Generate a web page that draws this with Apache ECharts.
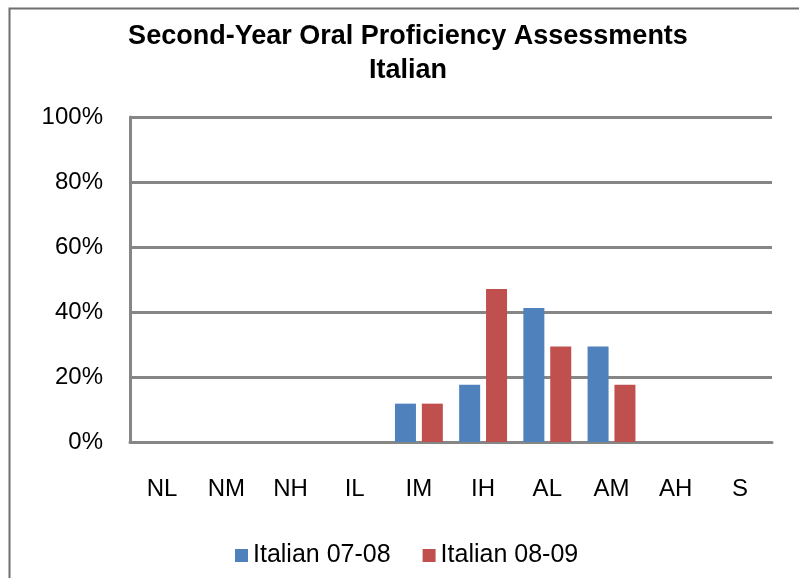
<!DOCTYPE html>
<html>
<head>
<meta charset="utf-8">
<script src="https://cdn.jsdelivr.net/npm/echarts@6/dist/echarts.min.js"></script>
<style>
html,body{margin:0;padding:0;background:#fff;}
#chart{width:799px;height:578px;}
</style>
</head>
<body>
<div id="chart"></div>
<script>
const categories = ['NL','NM','NH','IL','IM','IH','AL','AM','AH','S'];
const seriesNames = ['Italian 07-08','Italian 08-09'];
const italian0708 = [0,0,0,0,11.8,17.6,41.2,29.4,0,0];
const italian0809 = [0,0,0,0,11.8,47.1,29.4,17.6,0,0];
const yTicks = [0,20,40,60,80,100];

const chart = echarts.init(document.getElementById('chart'));
const font = '"Liberation Sans", Arial, Helvetica, sans-serif';
chart.setOption({
  animation: false,
  textStyle: {fontFamily: font},
  graphic: [{
    type: 'rect', left: 7, top: 6, silent: true,
    shape: {width: 791, height: 600},
    style: {fill: 'none', stroke: '#6f6f6f', lineWidth: 2}
  }],
  title: {
    text: 'Second-Year Oral Proficiency Assessments\nItalian',
    left: 403, top: 15, textAlign: 'center',
    textStyle: {fontSize: 27, fontWeight: 'bold', color: '#000', lineHeight: 34, fontFamily: font}
  },
  legend: {
    bottom: 5, left: 230,
    itemWidth: 13, itemHeight: 13, itemGap: 32,
    icon: 'rect',
    textStyle: {fontSize: 25, color: '#000', fontFamily: font}
  },
  grid: {left: 130, right: 27, top: 117, bottom: 136, containLabel: false},
  xAxis: {
    type: 'category', data: categories,
    axisLine: {lineStyle: {color: '#868686', width: 3}},
    axisTick: {show: false},
    axisLabel: {fontSize: 24, color: '#000', margin: 35, fontFamily: font}
  },
  yAxis: {
    type: 'value', min: 0, max: 100, interval: 20,
    axisLine: {show: true, lineStyle: {color: '#868686', width: 3}},
    axisTick: {show: false},
    splitLine: {lineStyle: {color: '#868686', width: 3}},
    axisLabel: {fontSize: 24, color: '#000', margin: 27, fontFamily: font,
      formatter: v => yTicks.includes(v) ? v + '%' : ''}
  },
  series: [
    {name: seriesNames[0], type: 'bar', data: italian0708, barWidth: 21, barGap: '28%',
     itemStyle: {color: '#4f81bd'}},
    {name: seriesNames[1], type: 'bar', data: italian0809, barWidth: 21, barGap: '28%',
     itemStyle: {color: '#c0504d'}}
  ]
});
</script>
</body>
</html>
